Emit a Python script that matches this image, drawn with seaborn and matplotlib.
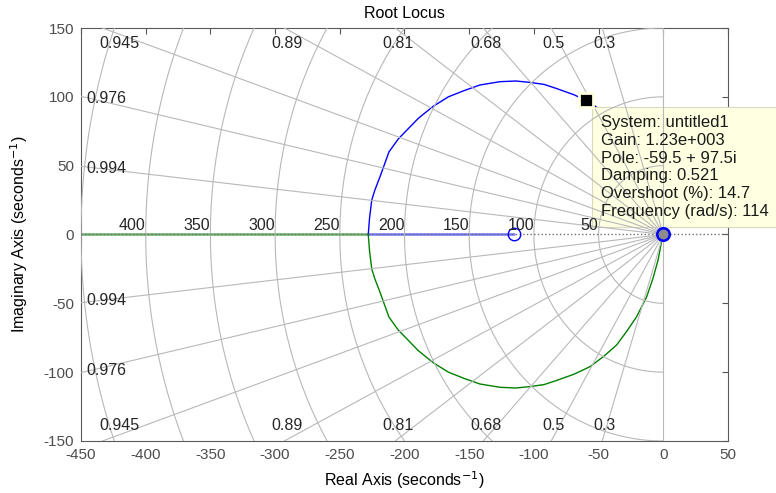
import numpy as np
import pandas as pd
import seaborn as sns
import matplotlib.pyplot as plt
from matplotlib.patches import Rectangle

sns.set_theme(style='white')
plt.rcParams['font.family'] = ['Liberation Sans', 'DejaVu Sans']
plt.rcParams['axes.unicode_minus'] = False

# ── s-plane grid values ─────────────────────────────────────
zeta = [0.3, 0.5, 0.68, 0.81, 0.89, 0.945, 0.976, 0.994]
wn = [50, 100, 150, 200, 250, 300, 350, 400, 450]
wn_labels = [50, 100, 150, 200, 250, 300, 350, 400]

# ── root locus ──────────────────────────────────────────────
# upper complex branch, origin -> break-in point; lower branch is its mirror
branch_re = [0, -1.5, -4.0, -8.0, -12.8, -20.6, -28.0, -36.0, -46.0, -56.6,
             -69.0, -82.4, -92.0, -103.0, -114.0, -126.2, -141.7, -154.0,
             -166.1, -178.0, -189.3, -204.8, -212.0, -218.9, -223.0, -225.3,
             -227.0, -228.0]
branch_im = [0, 6.0, 18.5, 32.0, 45.2, 59.7, 70.0, 80.2, 88.5, 96.0,
             101.5, 106.0, 109.0, 110.5, 111.5, 111.0, 108.6, 104.5,
             100.0, 93.0, 84.4, 69.4, 60.0, 42.0, 32.0, 25.0,
             12.0, 0]
breakin = -228.0
zero_re = -115.5
pole_re = 0.0

# ── data tip ────────────────────────────────────────────────
tip_re, tip_im = -59.5, 97.5
tip_lines = ['System: untitled1', 'Gain: 1.23e+003', 'Pole: -59.5 + 97.5i',
             'Damping: 0.521', 'Overshoot (%): 14.7', 'Frequency (rad/s): 114']

xlim = (-450, 50)
ylim = (-150, 150)

fig, ax = plt.subplots(figsize=(7.76, 4.93), dpi=100)
fig.subplots_adjust(left=0.1044, right=0.9381, bottom=0.1055, top=0.9432)

gcol = '#b8b8b8'
# damping rays
for z in zeta:
    th = np.arccos(z)
    for s in (1, -1):
        ax.plot([0, -1000 * np.cos(th)], [0, s * 1000 * np.sin(th)],
                color=gcol, lw=0.8, zorder=3)
# natural frequency arcs
t = np.linspace(np.pi / 2, 3 * np.pi / 2, 300)
for w in wn:
    ax.plot(w * np.cos(t), w * np.sin(t), color=gcol, lw=0.8, zorder=3)
ax.plot([0, 0], list(ylim), color=gcol, lw=0.8, zorder=3)

# locus branches
upper = pd.DataFrame({'re': branch_re, 'im': branch_im})
lower = pd.DataFrame({'re': branch_re, 'im': [-v for v in branch_im]})
sns.lineplot(data=upper, x='re', y='im', sort=False, estimator=None,
             color='#0000ff', lw=1, ax=ax, zorder=2)
sns.lineplot(data=lower, x='re', y='im', sort=False, estimator=None,
             color='#008000', lw=1, ax=ax, zorder=2)
ax.plot([breakin, zero_re], [0, 0], color='#0000ff', lw=1.8, alpha=0.55, zorder=2)
ax.plot([breakin, xlim[0]], [0, 0], color='#008000', lw=1.8, alpha=0.6, zorder=2)
# real axis (dotted)
ax.plot(list(xlim), [0, 0], color='#707070', ls=':', lw=1, zorder=3.2)

# poles / zeros
ax.plot([zero_re], [0], marker='o', ms=9, mfc='none', mec='#0000ff', mew=1, zorder=4)
ax.plot([pole_re], [0], marker='o', ms=9, mfc='#8c8c8c', mec='#0000ff', mew=1.8, zorder=4)

# labels on grid
lab_kw = dict(fontsize=11.5, color='#262626', zorder=5)
for z in zeta:
    th = np.arccos(z)
    x_top = -ylim[1] / np.tan(th)
    if x_top >= xlim[0]:
        xl = max(x_top + 2, -420)
        for s in (1, -1):
            ax.text(xl, s * 139, f'{z:g}', ha='center', va='center', **lab_kw)
    else:
        yl = -xlim[0] * np.tan(th) - 1.5
        for s in (1, -1):
            ax.text(-446, s * yl, f'{z:g}', ha='left', va='center', **lab_kw)
for w in wn_labels:
    ax.text(-w, 0.8, str(w), ha='right', va='bottom', **lab_kw)

# data tip box
box = Rectangle((-55, 5.5), 150, 87, facecolor='#ffffe1', edgecolor='#d9d9c0',
                lw=0.8, clip_on=False, zorder=2.7)
ax.add_patch(box)
ax.plot([tip_re], [tip_im], marker='s', ms=10, mfc='black', mec='#ffffe1',
        mew=2, zorder=4)
ax.text(-48.5, 86.5, '\n'.join(tip_lines), ha='left', va='top', fontsize=12,
        linespacing=1.22, color='#1a1a1a', clip_on=False, zorder=5)

ax.set_xlim(*xlim)
ax.set_ylim(*ylim)
ax.set_xticks(range(-450, 51, 50))
ax.set_yticks(range(-150, 151, 50))
ax.tick_params(direction='in', length=4, width=0.8, top=True, right=True,
               colors='#555555', labelcolor='#4d4d4d', labelsize=11, pad=5)
for sp in ax.spines.values():
    sp.set_color('#5a5a5a')
    sp.set_linewidth(0.8)

ax.set_title('Root Locus', fontsize=11.5, color='black', pad=7)
ax.set_xlabel('Real Axis (seconds$^{-1}$)', fontsize=11.5, color='black', labelpad=5)
ax.set_ylabel('Imaginary Axis (seconds$^{-1}$)', fontsize=11.5, color='black', labelpad=10)

fig.savefig('out.png', dpi=100)
